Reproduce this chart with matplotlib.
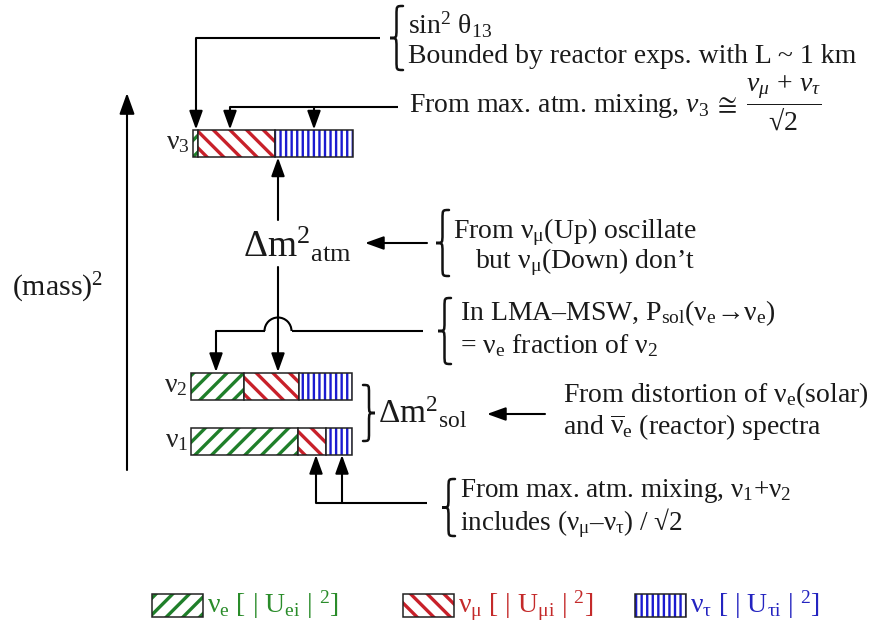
import matplotlib
matplotlib.use("Agg")
import matplotlib.pyplot as plt
from matplotlib.path import Path
from matplotlib.patches import PathPatch, Rectangle, Arc

# ---------------- data ----------------
states = ["ν$_1$", "ν$_2$", "ν$_3$"]
frac_e = [0.667, 0.33, 0.03]      # |U_ei|^2
frac_mu = [0.173, 0.34, 0.485]    # |U_mu i|^2
frac_tau = [0.16, 0.33, 0.485]    # |U_tau i|^2
flavours = ["ν$_{\\mathrm{e}}$ [ | U$_{\\mathrm{ei}}$ | $^{2}$]",
            "ν$_{\\mathrm{μ}}$ [ | U$_{\\mathrm{μi}}$ | $^{2}$]",
            "ν$_{\\mathrm{τ}}$ [ | U$_{\\mathrm{τi}}$ | $^{2}$]"]

# ---------------- style ----------------
plt.rcParams['font.family'] = ['Liberation Serif', 'DejaVu Serif']
plt.rcParams['mathtext.fontset'] = 'custom'
plt.rcParams['mathtext.rm'] = 'Liberation Serif'
plt.rcParams['mathtext.it'] = 'Liberation Serif:italic'
plt.rcParams['mathtext.bf'] = 'Liberation Serif:bold'
plt.rcParams['mathtext.fallback'] = 'stix'
plt.rcParams['hatch.linewidth'] = 2.2

GREEN, RED, BLUE = '#1f7f2a', '#c8202a', '#1a1ad0'
TGREEN, TRED, TBLUE = '#2a8c2a', '#c42a2a', '#2424c0'
hatches = ['//', '\\\\', '|||']
hatch_lw = [2.4, 2.4, 1.7]
cols = [GREEN, RED, BLUE]
FS = 20

fig = plt.figure(figsize=(8.88, 6.30), dpi=100)
ax = fig.add_axes([0, 0, 1, 1])
ax.set_xlim(0, 888)
ax.set_ylim(630, 0)
ax.axis('off')


def set_hlw(p, w):
    if hasattr(p, 'set_hatch_linewidth'):
        p.set_hatch_linewidth(w)


# ---------------- bars ----------------
bar_y = [441, 386, 143.5]
bar_h = 27
bar_x0 = [191, 191, 193]
bar_w = [161, 161, 160]
for i in range(3):
    fr = [frac_e[i], frac_mu[i], frac_tau[i]]
    left = bar_x0[i]
    for f, c, h, hw in zip(fr, cols, hatches, hatch_lw):
        bars = ax.barh(bar_y[i], f * bar_w[i], left=left, height=bar_h,
                       color='white', edgecolor=c, hatch=h, linewidth=0)
        for p in bars:
            set_hlw(p, hw)
        ax.barh(bar_y[i], f * bar_w[i], left=left, height=bar_h,
                fill=False, edgecolor='#222222', linewidth=1.1)
        left += f * bar_w[i]
    ax.text(bar_x0[i] - 3, bar_y[i] + 6, states[i], fontsize=20,
            ha='right', va='baseline', color='#222222')

# ---------------- helpers ----------------
LW = 1.5


def line(xs, ys):
    ax.plot(xs, ys, color='black', lw=LW, solid_capstyle='butt',
            solid_joinstyle='miter')


def arrow(x0, y0, x1, y1, ms=15):
    ax.annotate('', xy=(x1, y1), xytext=(x0, y0),
                arrowprops=dict(arrowstyle='-|>,head_length=0.75,head_width=0.27',
                                color='black', lw=LW, shrinkA=0, shrinkB=0,
                                mutation_scale=ms))


def brace(x, y0, y1, w=13, right=False, lw=1.8):
    ym = (y0 + y1) / 2.0
    r = min(w * 0.7, (y1 - y0) / 4)
    s = -1 if right else 1
    xt = x            # tip x
    xm = x + s * w * 0.5
    xe = x + s * w
    verts = [(xe, y0), (xm, y0), (xm, y0), (xm, y0 + r),
             (xm, ym - r), (xm, ym), (xm, ym), (xt, ym),
             (xm, ym), (xm, ym), (xm, ym + r),
             (xm, y1 - r), (xm, y1), (xm, y1), (xe, y1)]
    codes = [Path.MOVETO, Path.CURVE4, Path.CURVE4, Path.CURVE4,
             Path.LINETO, Path.CURVE4, Path.CURVE4, Path.CURVE4,
             Path.CURVE4, Path.CURVE4, Path.CURVE4,
             Path.LINETO, Path.CURVE4, Path.CURVE4, Path.CURVE4]
    ax.add_patch(PathPatch(Path(verts, codes), fill=False, lw=lw,
                           edgecolor='#111111', capstyle='round'))


def txt(x, y, s, fs=FS, **kw):
    ax.text(x, y, s, fontsize=fs, ha='left', va='baseline',
            color='#1a1a1a', **kw)


# ---------------- vertical mass axis ----------------
arrow(127, 470, 127, 93, ms=17)
txt(12, 296, "(mass)$^{2}$", fs=21.5)

# ---------------- nu3 annotations ----------------
line([380, 196], [38, 38])
arrow(196, 38, 196, 129.5)
brace(390, 6, 70)
txt(408, 34, "sin$^{2}$ θ$_{13}$")
txt(408, 63, "Bounded by reactor exps. with L ~ 1 km")

line([398, 230], [107, 107])
arrow(230, 107, 230, 129.5)
arrow(314, 107, 314, 129.5)
txt(409, 112, "From max. atm. mixing, "
    r"$\nu_3 \;\cong\; \dfrac{\nu_\mu\, +\, \nu_\tau}{\mathrm{√}2}$")

# ---------------- atmospheric splitting ----------------
arrow(278, 220, 278, 157.5)
ax.text(243, 257, r"$\Delta$m$^{2}{}_{\mathrm{atm}}$", fontsize=27,
        ha='left', va='baseline', color='#1a1a1a')
arrow(427, 243, 365, 243)
brace(436, 210, 276)
txt(453, 238, "From ν$_{\\mathrm{μ}}$(Up) oscillate")
txt(475, 268, "but ν$_{\\mathrm{μ}}$(Down) don’t")

# line from Delta m^2_atm down to nu2, with a hop
arrow(278, 267, 278, 372)
line([423, 291.5], [331, 331])
ax.add_patch(Arc((278, 331), 27, 27, theta1=180, theta2=360,
                 color='black', lw=LW))
line([264.5, 216], [331, 331])
arrow(216, 331, 216, 372)
brace(438, 298, 364)
txt(460, 320, "In LMA–MSW, P$_{\\mathrm{sol}}$(ν$_{\\mathrm{e}}$→ν$_{\\mathrm{e}}$)")
txt(460, 353, "= ν$_{\\mathrm{e}}$ fraction of ν$_{2}$")

# ---------------- solar splitting ----------------
brace(375, 385, 441, w=12, right=True)
ax.text(378, 423, r"$\Delta$m$^{2}{}_{\mathrm{sol}}$", fontsize=24,
        ha='left', va='baseline', color='#1a1a1a')
arrow(545, 414, 487, 414)
txt(563, 402, "From distortion of ν$_{\\mathrm{e}}$(solar)")
txt(563, 434, "and $\\overline{\\mathrm{ν}}_{\\mathrm{e}}$ (reactor) spectra")

# ---------------- bottom annotation ----------------
line([427, 316], [503, 503])
arrow(316, 503, 316, 455)
arrow(342, 503, 342, 455)
brace(442, 479, 536)
txt(460, 497, "From max. atm. mixing, ν$_{1}$+ν$_{2}$", fs=19.5)
txt(460, 530, "includes (ν$_{\\mathrm{μ}}$–ν$_{\\mathrm{τ}}$) / √2", fs=19.5)

# ---------------- legend ----------------
leg_x = [152, 403, 635]
leg_tc = [TGREEN, TRED, TBLUE]
for lx, c, h, hw, lab, tc in zip(leg_x, cols, hatches, hatch_lw, flavours, leg_tc):
    p = Rectangle((lx, 594), 51, 23, facecolor='white',
                  edgecolor=c, hatch=h, lw=0)
    set_hlw(p, hw)
    ax.add_patch(p)
    ax.add_patch(Rectangle((lx, 594), 51, 23, fill=False,
                           edgecolor='#222222', lw=1.1))
    ax.text(lx + 55, 613, lab, fontsize=20, color=tc, ha='left',
            va='baseline')

fig.savefig("out.png", dpi=100)
